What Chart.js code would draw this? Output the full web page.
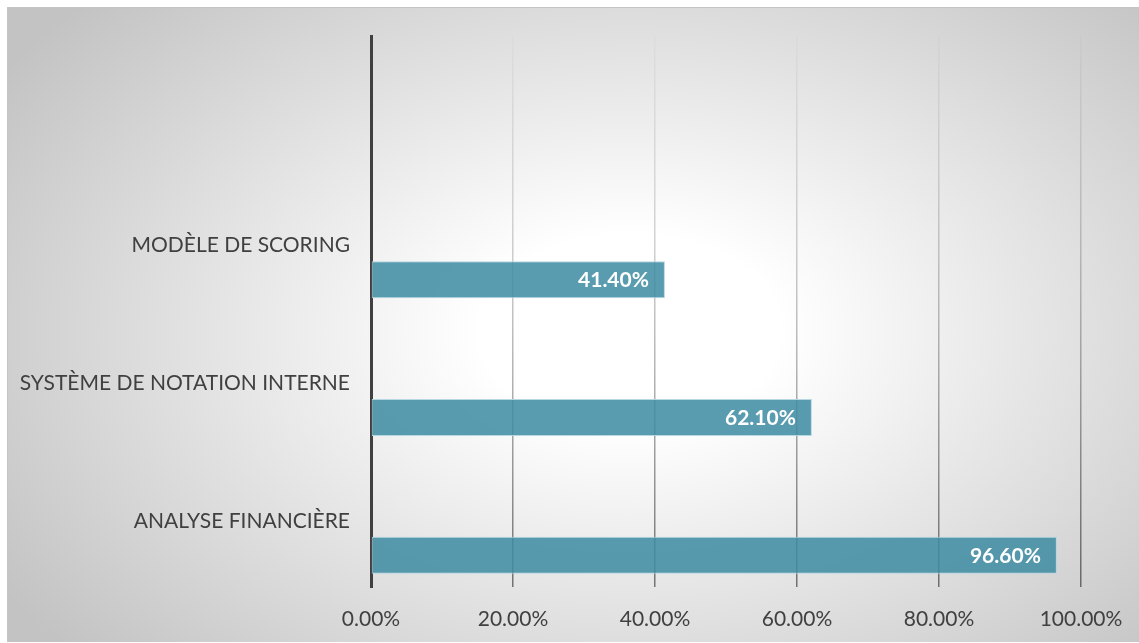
<!DOCTYPE html>
<html>
<head>
<meta charset="utf-8">
<script src="https://cdn.jsdelivr.net/npm/chart.js@4"></script>
<style>
  html, body { margin: 0; padding: 0; background: #fff; }
  body { width: 1139px; height: 643px; position: relative; overflow: hidden; }
  /* grey radial backdrop of the chart frame */
  #frame {
    position: absolute; left: 7px; top: 7px; width: 1132px; height: 635px;
    box-sizing: border-box;
    border-top: 1px solid #c4c4c4; border-left: 1px solid #c4c4c4;
    background: radial-gradient(ellipse 66% 76% at 55% 51%, #ffffff 0%, #ffffff 20%, #c3c3c3 100%);
  }
  #wrap { position: absolute; left: 0; top: 0; width: 1139px; height: 643px; }
</style>
</head>
<body>
<div id="frame"></div>
<div id="wrap"><canvas id="chart"></canvas></div>
<script>
// Méthodes d'évaluation du risque (part des réponses)
const categories = ['', 'MODÈLE DE SCORING', 'SYSTÈME DE NOTATION INTERNE', 'ANALYSE FINANCIÈRE'];
const emptySeries = [null, null, null, null];
const shareValues = [null, 41.4, 62.1, 96.6];
const xTicks = [0, 20, 40, 60, 80, 100];

const FONT = 'Lato, "Open Sans", sans-serif';
const TEXT = '#404040';

const pct = v => Number(v).toFixed(2) + '%';

// grid lines fade in from top to bottom
function gridGradient(ctx) {
  const chart = ctx.chart;
  const area = chart.chartArea;
  if (!area) return 'rgba(0,0,0,0.2)';
  const g = chart.ctx.createLinearGradient(0, area.top, 0, area.bottom);
  g.addColorStop(0, 'rgba(0,0,0,0.01)');
  g.addColorStop(0.5, 'rgba(0,0,0,0.24)');
  g.addColorStop(1, 'rgba(0,0,0,0.5)');
  return g;
}

// white value labels inside the end of each bar
const barLabels = {
  id: 'barLabels',
  afterDatasetsDraw(chart) {
    const ctx = chart.ctx;
    const meta = chart.getDatasetMeta(1);
    ctx.save();
    ctx.font = 'bold 21px ' + FONT;
    ctx.fillStyle = '#ffffff';
    ctx.textAlign = 'right';
    ctx.textBaseline = 'middle';
    meta.data.forEach((bar, i) => {
      const v = shareValues[i];
      if (v == null) return;
      ctx.fillText(pct(v), bar.x - 16, bar.y + 1);
    });
    ctx.restore();
  }
};

new Chart(document.getElementById('chart'), {
  type: 'bar',
  data: {
    labels: categories,
    datasets: [
      { label: '', data: emptySeries },
      {
        label: 'Part',
        data: shareValues,
        backgroundColor: 'rgba(62,140,163,0.86)',
        borderColor: 'rgba(178,214,224,0.95)',
        borderWidth: 1,
        borderSkipped: false,
        categoryPercentage: 1.075,
        barPercentage: 0.5
      }
    ]
  },
  options: {
    indexAxis: 'y',
    responsive: true,
    maintainAspectRatio: false,
    animation: false,
    layout: { padding: { top: 36, right: 58, left: 0, bottom: 0 } },
    plugins: {
      legend: { display: false },
      tooltip: { enabled: false }
    },
    scales: {
      x: {
        min: 0,
        max: 100,
        afterBuildTicks: s => { s.ticks = xTicks.map(v => ({ value: v })); },
        afterFit: s => { s.height = 56; s.paddingRight = 58; },
        grid: { color: gridGradient, lineWidth: 1.5, drawTicks: false },
        border: { display: false },
        ticks: {
          padding: 20,
          color: TEXT,
          font: { family: FONT, size: 21 },
          callback: v => pct(v)
        }
      },
      y: {
        afterFit: s => { s.width = 371; },
        grid: { display: false, drawTicks: false },
        border: { display: true, color: '#404040', width: 3 },
        ticks: {
          padding: 21,
          labelOffset: 3,
          color: TEXT,
          font: { family: FONT, size: 21 }
        }
      }
    }
  },
  plugins: [barLabels]
});
</script>
</body>
</html>
